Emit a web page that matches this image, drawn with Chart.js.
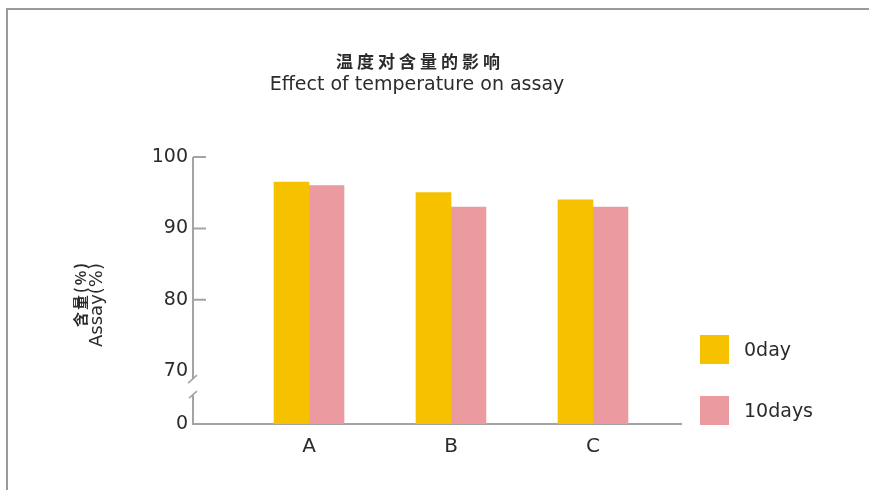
<!DOCTYPE html>
<html>
<head>
<meta charset="utf-8">
<script src="https://cdn.jsdelivr.net/npm/chart.js@4"></script>
<style>
  html, body { margin: 0; padding: 0; background: #fff; }
  #wrap { position: relative; width: 869px; height: 490px; overflow: hidden; }
  #frame { position: absolute; left: 6px; top: 8px; width: 1000px; height: 1000px;
           border-left: 2px solid #9a9a9a; border-top: 2px solid #9a9a9a; }
  #chart { position: absolute; left: 0; top: 0; }
</style>
</head>
<body>
<div id="wrap">
  <div id="frame"></div>
  <canvas id="chart" width="869" height="490"></canvas>
</div>
<script>
const titleCn = '温度对含量的影响';
const titleEn = 'Effect of temperature on assay';
const axisTitleCn = '含量(%)';
const axisTitleEn = 'Assay(%)';

const categories = ['A', 'B', 'C'];
const day0 = [96.5, 95, 94];
const day10 = [96, 93, 93];
const seriesNames = ['0day', '10days'];
const seriesColors = ['#f6c200', '#eb9ba0'];
const yTicks = [0, 70, 80, 90, 100];

// broken axis: 0 is drawn just below 70
const breakAt = 70;
const zeroShown = 62.6;
function toAxis(v) {
    return v >= breakAt ? v : zeroShown + v * (breakAt - zeroShown) / breakAt;
}

function points(values) {
    return values.map((v, i) => ({ x: i + 1, y: toAxis(v) }));
}

const axisGrey = '#a3a3a3';
const textColor = '#2b2b2b';

const extras = {
    id: 'extras',
    afterDraw(chart) {
        const ctx = chart.ctx;
        const y = chart.scales.y;
        const area = chart.chartArea;
        const x0 = area.left;

        ctx.save();
        // y axis line with break
        ctx.strokeStyle = axisGrey;
        ctx.lineWidth = 2;
        const yBreakTop = y.getPixelForValue(breakAt) + 8;
        const yBreakBot = yBreakTop + 16;
        ctx.beginPath();
        ctx.moveTo(x0, y.getPixelForValue(100));
        ctx.lineTo(x0, yBreakTop);
        ctx.moveTo(x0, yBreakBot);
        ctx.lineTo(x0, area.bottom);
        ctx.stroke();
        ctx.lineWidth = 1.5;
        ctx.beginPath();
        ctx.moveTo(x0 - 5, yBreakTop + 4);
        ctx.lineTo(x0 + 4, yBreakTop - 4);
        ctx.moveTo(x0 - 4, yBreakBot + 3);
        ctx.lineTo(x0 + 4, yBreakBot - 4);
        ctx.stroke();

        // tick marks inside the plot
        ctx.lineWidth = 2;
        ctx.beginPath();
        [80, 90, 100].forEach(v => {
            const py = y.getPixelForValue(v);
            ctx.moveTo(x0, py);
            ctx.lineTo(x0 + 13, py);
        });
        ctx.stroke();

        // titles
        ctx.fillStyle = textColor;
        ctx.textAlign = 'center';
        ctx.textBaseline = 'middle';
        ctx.font = 'bold 17px "Noto Sans CJK SC"';
        ctx.letterSpacing = '4px';
        ctx.fillText(titleCn, 420, 62);
        ctx.letterSpacing = '0px';
        ctx.font = '19px "DejaVu Sans"';
        ctx.fillText(titleEn, 417, 85);

        // axis title
        ctx.save();
        ctx.translate(80, 294);
        ctx.rotate(-Math.PI / 2);
        ctx.font = 'bold 15px "Noto Sans CJK SC"';
        ctx.letterSpacing = '2px';
        ctx.fillText(axisTitleCn, 0, 0);
        ctx.restore();
        ctx.save();
        ctx.translate(97, 305);
        ctx.rotate(-Math.PI / 2);
        ctx.font = '18px "DejaVu Sans"';
        ctx.fillText(axisTitleEn, 0, 0);
        ctx.restore();

        // legend
        ctx.textAlign = 'left';
        ctx.font = '19px "DejaVu Sans"';
        chart.data.datasets.forEach((ds, i) => {
            const top = 335 + i * 61;
            ctx.fillStyle = ds.backgroundColor;
            ctx.fillRect(700, top, 29, 29);
            ctx.fillStyle = textColor;
            ctx.fillText(ds.label, 744, top + 16);
        });
        ctx.restore();
    }
};

new Chart(document.getElementById('chart'), {
    type: 'bar',
    data: {
        datasets: [
            { label: seriesNames[0], data: points(day0), backgroundColor: seriesColors[0] },
            { label: seriesNames[1], data: points(day10), backgroundColor: seriesColors[1] }
        ]
    },
    options: {
        responsive: false,
        animation: false,
        events: [],
        layout: { padding: { top: 157, right: 188, left: 0, bottom: 0 } },
        datasets: { bar: { barThickness: 35, base: zeroShown, borderWidth: 0 } },
        plugins: { legend: { display: false }, title: { display: false }, tooltip: { enabled: false } },
        scales: {
            x: {
                type: 'linear',
                offset: false,
                min: 0.183,
                max: 3.62,
                afterBuildTicks: s => { s.ticks = categories.map((c, i) => ({ value: i + 1 })); },
                afterFit: s => { s.height = 66; },
                grid: { display: false, drawTicks: false, offset: false },
                border: { display: true, color: axisGrey, width: 2 },
                ticks: {
                    callback: v => categories[v - 1],
                    color: textColor,
                    font: { family: 'DejaVu Sans', size: 20 },
                    padding: 11,
                    maxRotation: 0
                }
            },
            y: {
                min: zeroShown,
                max: 100,
                afterBuildTicks: s => { s.ticks = yTicks.map(v => ({ value: toAxis(v) })); },
                afterFit: s => { s.width = 193; },
                grid: { display: false, drawTicks: false },
                border: { display: false },
                ticks: {
                    callback: (v, i) => String(yTicks[i]),
                    color: textColor,
                    font: { family: 'DejaVu Sans', size: 19 },
                    padding: 5
                }
            }
        }
    },
    plugins: [extras]
});
</script>
</body>
</html>
